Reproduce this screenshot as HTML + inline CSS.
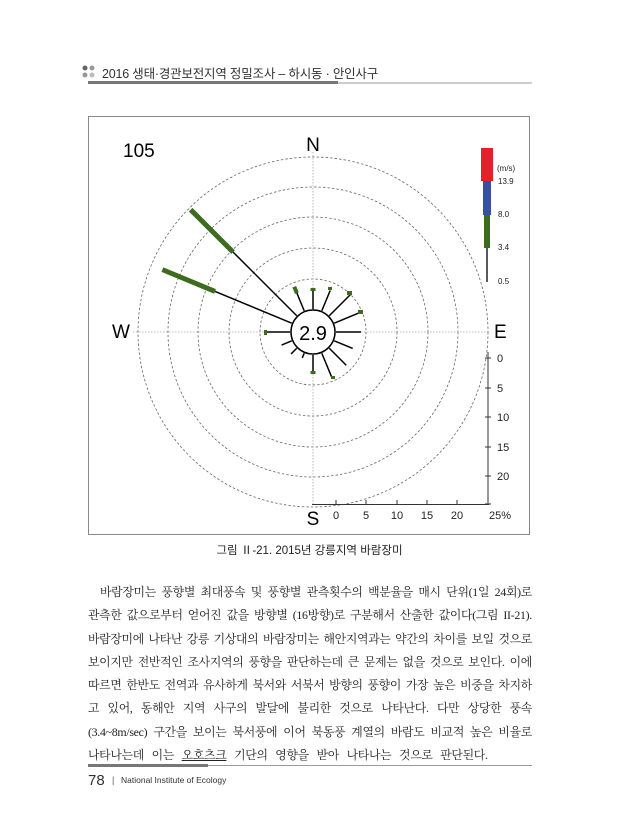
<!DOCTYPE html>
<html><head><meta charset="utf-8"><style>
body{margin:0;background:#fff;width:619px;height:840px;overflow:hidden;position:relative;font-family:"Liberation Sans","Noto Sans CJK KR",sans-serif}
.hdr{position:absolute;left:102px;top:63px;font-size:12.5px;color:#333;letter-spacing:-0.2px}
.txt{position:absolute;left:88px;top:581px;width:444px;font-family:"Liberation Serif","Noto Serif CJK SC","NanumGothic",serif;font-size:11.9px;line-height:23.3px;color:#222;letter-spacing:-0.3px}
.txt div{text-align:justify;text-align-last:justify;white-space:nowrap;height:23.3px}
.cap{position:absolute;left:0;width:619px;top:542px;text-align:center;font-size:11.5px;color:#222}
</style></head><body>
<svg width="619" height="840" style="position:absolute;left:0;top:0">
<circle cx="85" cy="68" r="2.5" fill="#666"/><circle cx="92" cy="68" r="2.5" fill="#999"/>
<circle cx="85" cy="75" r="2.5" fill="#999"/><circle cx="92" cy="75" r="2.5" fill="#bbb"/>
<rect x="88" y="81" width="250" height="3" fill="#777"/><line x1="338" y1="83" x2="532" y2="83" stroke="#999" stroke-width="1"/>
<rect x="88.5" y="116.5" width="441" height="418" fill="none" stroke="#888" stroke-width="1"/>
<g fill="none" stroke="#666" stroke-width="0.8" stroke-dasharray="2.5,2">
<circle cx="313" cy="332" r="53"/><circle cx="313" cy="332" r="84"/><circle cx="313" cy="332" r="115"/><circle cx="313" cy="332" r="145"/><circle cx="313" cy="332" r="175"/>
</g>
<g stroke="#aaa" stroke-width="0.8" stroke-dasharray="1.5,1.5">
<line x1="313" y1="152" x2="313" y2="505"/><line x1="133" y1="332" x2="488" y2="332"/>
</g>
<g stroke="#000" stroke-width="1.5">
<g transform="translate(313,332) rotate(0)"><line y1="-23" y2="-42"/></g>
<g transform="translate(313,332) rotate(22.5)"><line y1="-23" y2="-45"/></g>
<g transform="translate(313,332) rotate(45)"><line y1="-23" y2="-53"/></g>
<g transform="translate(313,332) rotate(67.5)"><line y1="-23" y2="-52"/></g>
<g transform="translate(313,332) rotate(90)"><line y1="-23" y2="-48"/></g>
<g transform="translate(313,332) rotate(112.5)"><line y1="-23" y2="-43"/></g>
<g transform="translate(313,332) rotate(135)"><line y1="-23" y2="-47"/></g>
<g transform="translate(313,332) rotate(157.5)"><line y1="-23" y2="-50"/></g>
<g transform="translate(313,332) rotate(180)"><line y1="-23" y2="-40"/></g>
<g transform="translate(313,332) rotate(202.5)"><line y1="-23" y2="-28"/></g>
<g transform="translate(313,332) rotate(225)"><line y1="-23" y2="-31"/></g>
<g transform="translate(313,332) rotate(247.5)"><line y1="-23" y2="-34"/></g>
<g transform="translate(313,332) rotate(270)"><line y1="-23" y2="-48"/></g>
<g transform="translate(313,332) rotate(292.5)"><line y1="-23" y2="-106"/><rect x="-2.5" y="-163" width="5" height="57" fill="#3d6b1f" stroke="none"/></g>
<g transform="translate(313,332) rotate(315)"><line y1="-23" y2="-113"/><rect x="-2.5" y="-173" width="5" height="60" fill="#3d6b1f" stroke="none"/></g>
<g transform="translate(313,332) rotate(337.5)"><line y1="-23" y2="-44"/><rect x="-2" y="-49" width="4" height="7" fill="#3d6b1f" stroke="none"/></g>
</g>
<g fill="#3d6b1f">
<rect x="310.5" y="288" width="5" height="3"/><rect x="328" y="287" width="4" height="3"/>
<rect x="347" y="291" width="5" height="4"/><rect x="358" y="310" width="5" height="4"/>
<rect x="264" y="330" width="3" height="5"/><rect x="310.5" y="371" width="5" height="3"/>
<rect x="331" y="376" width="4" height="3"/>
</g>
<circle cx="313" cy="332" r="22" fill="#fff" stroke="#000" stroke-width="1.5"/>
<text x="313" y="340" text-anchor="middle" font-size="20" font-family="Liberation Sans">2.9</text>
<g font-family="Liberation Sans" font-size="19">
<text x="313" y="151" text-anchor="middle">N</text><text x="313" y="525" text-anchor="middle">S</text>
<text x="112" y="338">W</text><text x="494" y="338">E</text>
<text x="123" y="157">105</text>
</g>
<rect x="481" y="148" width="12" height="33" fill="#e3212b"/>
<rect x="483" y="181" width="8" height="34" fill="#3950a0"/>
<rect x="484" y="215" width="6" height="33" fill="#3d6b1f"/>
<line x1="487" y1="248" x2="487" y2="282" stroke="#000" stroke-width="1.3"/>
<g font-size="8" font-family="Liberation Sans" fill="#222">
<text x="497" y="171">(m/s)</text><text x="498" y="184">13.9</text><text x="498" y="217">8.0</text><text x="498" y="250">3.4</text><text x="498" y="284">0.5</text>
</g>
<g stroke="#333" stroke-width="1">
<line x1="488" y1="352" x2="488" y2="505"/><line x1="312" y1="504.5" x2="489" y2="504.5"/>
<line x1="485" y1="358" x2="491" y2="358"/><line x1="485" y1="388" x2="491" y2="388"/><line x1="485" y1="417" x2="491" y2="417"/><line x1="485" y1="447" x2="491" y2="447"/><line x1="485" y1="476" x2="491" y2="476"/><line x1="485" y1="504" x2="491" y2="504"/>
<line x1="336" y1="500" x2="336" y2="505"/><line x1="366" y1="500" x2="366" y2="505"/><line x1="397" y1="500" x2="397" y2="505"/><line x1="427" y1="500" x2="427" y2="505"/><line x1="457" y1="500" x2="457" y2="505"/>
</g>
<g font-size="11" font-family="Liberation Sans" fill="#222">
<text x="497" y="362">0</text><text x="497" y="392">5</text><text x="497" y="421">10</text><text x="497" y="451">15</text><text x="497" y="480">20</text>
<text x="336" y="519" text-anchor="middle">0</text><text x="366" y="519" text-anchor="middle">5</text><text x="397" y="519" text-anchor="middle">10</text><text x="427" y="519" text-anchor="middle">15</text><text x="457" y="519" text-anchor="middle">20</text><text x="500" y="519" text-anchor="middle">25%</text>
</g>
<rect x="88" y="764" width="120" height="3" fill="#777"/><line x1="208" y1="765.5" x2="532" y2="765.5" stroke="#999" stroke-width="1"/>
<text x="88" y="785" font-size="15" font-family="Liberation Sans" fill="#333">78</text>
<text x="112" y="783" font-size="9" font-family="Liberation Sans" fill="#555">|</text>
<text x="121" y="783" font-size="8.5" font-family="Liberation Sans" fill="#333">National Institute of Ecology</text>
</svg>
<div class="hdr">2016 생태·경관보전지역 정밀조사 – 하시동 · 안인사구</div>
<div class="cap">그림 Ⅱ-21. 2015년 강릉지역 바람장미</div>
<div class="txt">
<div style="padding-left:12px">바람장미는 풍향별 최대풍속 및 풍향별 관측횟수의 백분율을 매시 단위(1일 24회)로</div>
<div>관측한 값으로부터 얻어진 값을 방향별 (16방향)로 구분해서 산출한 값이다(그림 II-21).</div>
<div>바람장미에 나타난 강릉 기상대의 바람장미는 해안지역과는 약간의 차이를 보일 것으로</div>
<div>보이지만 전반적인 조사지역의 풍향을 판단하는데 큰 문제는 없을 것으로 보인다. 이에</div>
<div>따르면 한반도 전역과 유사하게 북서와 서북서 방향의 풍향이 가장 높은 비중을 차지하</div>
<div>고 있어, 동해안 지역 사구의 발달에 불리한 것으로 나타난다. 다만 상당한 풍속</div>
<div>(3.4~8m/sec) 구간을 보이는 북서풍에 이어 북동풍 계열의 바람도 비교적 높은 비율로</div>
<div style="text-align-last:left;word-spacing:5px">나타나는데 이는 <u>오호츠크</u> 기단의 영향을 받아 나타나는 것으로 판단된다.</div>
</div>
</body></html>
